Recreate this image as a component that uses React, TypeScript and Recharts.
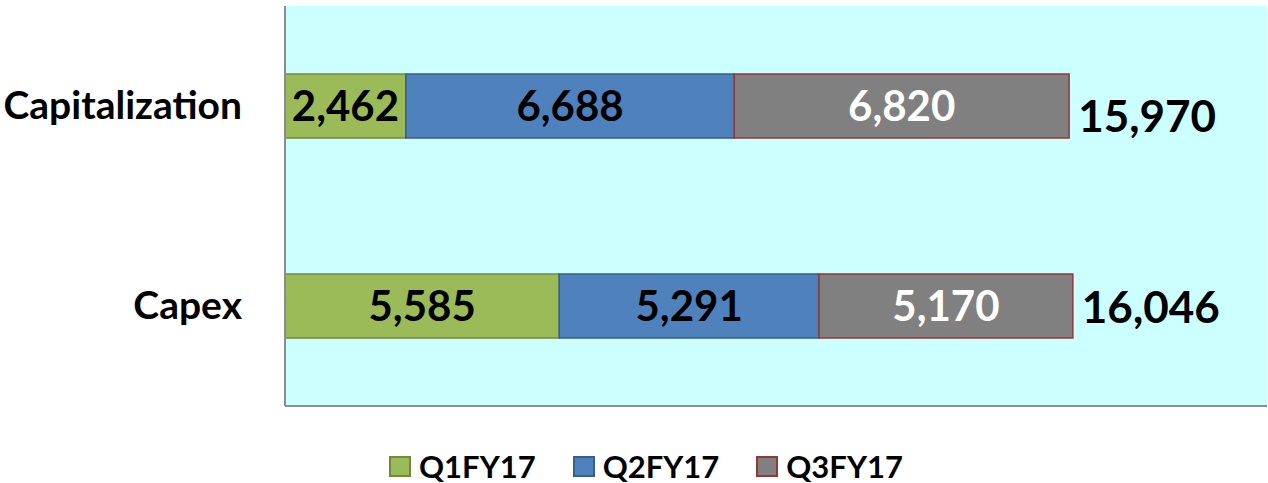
import { BarChart, Bar, XAxis, YAxis, CartesianGrid, Legend, LabelList } from 'recharts'

const categories = ['Capitalization', 'Capex']
const q1 = [2462, 5585]
const q2 = [6688, 5291]
const q3 = [6820, 5170]
const totals = [15970, 16046]

const seriesInfo = [
  { key: 'q1', name: 'Q1FY17', fill: '#9BBB59', stroke: '#71893F', text: '#000' },
  { key: 'q2', name: 'Q2FY17', fill: '#4F81BD', stroke: '#385D8A', text: '#000' },
  { key: 'q3', name: 'Q3FY17', fill: '#808080', stroke: '#953735', text: '#fff' },
]

const data = categories.map((c, i) => ({
  name: c,
  q1: q1[i],
  q2: q2[i],
  q3: q3[i],
  total: totals[i],
}))

const FONT = 'Lato, "Open Sans", sans-serif'
const fmt = (v: any) => Number(v).toLocaleString('en-US')

function CategoryTick(props: any) {
  const { x, y, payload } = props
  return (
    <text x={x - 35} y={y} dy={13} textAnchor="end" fontFamily={FONT} fontWeight={700} fontSize={39} fill="#000">
      {payload.value}
    </text>
  )
}

function TotalLabel(props: any) {
  const { x, y, width, height, value, index } = props
  // the top total sits a bit low in the original
  const shift = index === 0 ? 11 : 2
  return (
    <text
      x={Number(x) + Number(width) + 9}
      y={Number(y) + Number(height) / 2 + shift}
      dy={15}
      textAnchor="start"
      fontFamily={FONT}
      fontWeight={700}
      fontSize={44}
      fill="#000"
    >
      {fmt(value)}
    </text>
  )
}

function LegendBox() {
  return (
    <div style={{ display: 'flex', justifyContent: 'center', gap: 37, paddingLeft: 24, fontFamily: FONT, fontWeight: 700, fontSize: 31 }}>
      {seriesInfo.map(s => (
        <div key={s.key} style={{ display: 'flex', alignItems: 'center', gap: 8 }}>
          <span style={{ width: 22, height: 21, background: s.fill, border: `2px solid ${s.stroke}`, boxSizing: 'border-box' }} />
          <span>{s.name}</span>
        </div>
      ))}
    </div>
  )
}

export default function App() {
  return (
    <div style={{ position: 'absolute', left: 0, top: 0, background: '#fff' }}>
      <BarChart
        width={1268}
        height={483}
        data={data}
        layout="vertical"
        margin={{ top: 6, right: 1, bottom: 67, left: 0 }}
        barSize={64}
      >
        <CartesianGrid fill="#CCFFFF" stroke="none" horizontal={false} vertical={false} />
        <XAxis type="number" domain={[0, 20000]} tick={false} tickLine={false} height={10} axisLine={{ stroke: '#8C8C8C', strokeWidth: 2 }} />
        <YAxis
          type="category"
          dataKey="name"
          width={285}
          tickLine={false}
          axisLine={{ stroke: '#8C8C8C', strokeWidth: 2 }}
          tick={<CategoryTick />}
        />
        {seriesInfo.map(s => (
          <Bar key={s.key} dataKey={s.key} name={s.name} stackId="a" fill={s.fill} stroke={s.stroke} strokeWidth={1.5} isAnimationActive={false}>
            <LabelList
              dataKey={s.key}
              position="center"
              formatter={fmt}
              style={{ fontFamily: FONT, fontWeight: 700, fontSize: 42 }}
              fill={s.text}
            />
            {s.key === 'q3' && <LabelList dataKey="total" content={<TotalLabel />} />}
          </Bar>
        ))}
        <Legend
          layout="horizontal"
          verticalAlign="middle"
          align="center"
          content={<LegendBox />}
          wrapperStyle={{ top: 447, left: 0, width: 1268 }}
        />
      </BarChart>
    </div>
  )
}
